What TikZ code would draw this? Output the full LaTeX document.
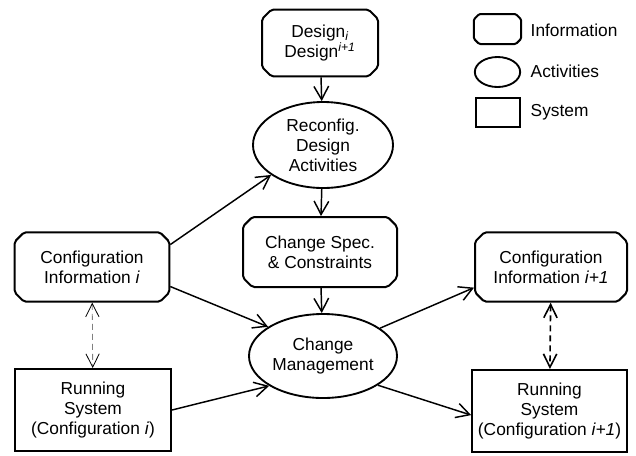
\documentclass[tikz,border=0pt]{standalone}
\usepackage{fontspec}
\setmainfont{Liberation Sans}
\usetikzlibrary{shapes.misc, shapes.geometric, arrows.meta}
\tikzset{
info/.style={chamfered rectangle, chamfered rectangle xsep=3.5pt,
  chamfered rectangle ysep=3.5pt, rounded corners=1.5pt, draw,
  line width=1.5pt, inner sep=0pt, align=center},
activity/.style={ellipse, draw, line width=1.4pt, inner sep=0pt,
  align=center},
sys/.style={rectangle, draw, line width=1.5pt, inner sep=0pt,
  align=center},
flow/.style={-{Straight Barb[length=10pt, width=11pt]}, line width=1.1pt},
link/.style={{Straight Barb[length=10pt, width=10pt, color=black]}-{Straight Barb[length=10pt, width=10pt, color=black]},
  dash pattern=on 4.5pt off 3pt}
}

\begin{document}
\begin{tikzpicture}[x=0.75pt, y=-0.75pt,
  every node/.style={font=\fontsize{13}{15}\selectfont}]
  \useasboundingbox (0,0) rectangle (636,455);
% legend
\node[sys, draw=none, minimum width=34pt, minimum height=21pt] (keyinfo) at (497.5,29) {};
\draw[line width=1.5pt, rounded corners=1pt]
  ([xshift=4pt]keyinfo.north west) -- ([xshift=-4pt]keyinfo.north east)
  -- ([yshift=-4pt]keyinfo.north east) -- ([yshift=4pt]keyinfo.south east)
  -- ([xshift=-4pt]keyinfo.south east) -- ([xshift=4pt]keyinfo.south west)
  -- ([yshift=4pt]keyinfo.south west) -- ([yshift=-4pt]keyinfo.north west)
  -- cycle;
\node[activity, minimum width=34pt, minimum height=22.5pt] (keyact) at (497.5,72) {};
\node[sys, minimum width=33pt, minimum height=22pt] (keysys) at (498,112.5) {};
\node[anchor=west] (keyinfolbl) at (526,30) {Information};
\node[anchor=west] (keyactlbl) at (526,71) {Activities};
\node[anchor=west] (keysyslbl) at (526,112) {System};
% main nodes
\node[info, minimum width=87pt, minimum height=50pt] (design) at (320,43)
  {Design\textsubscript{\itshape i}\\Design\textsuperscript{\itshape i+1}};
\node[activity, minimum width=105pt, minimum height=64.5pt] (reconfig) at (323,145)
  {Reconfig.\\Design\\Activities};
\node[info, minimum width=115.5pt, minimum height=52.5pt] (spec) at (320,252)
  {Change Spec.\\\& Constraints};
\node[activity, minimum width=111pt, minimum height=63pt] (mgmt) at (323,356)
  {Change\\Management};
\node[info, minimum width=116pt, minimum height=52pt] (cfgi) at (92,267)
  {Configuration\\Information \textit{i}};
\node[sys, minimum width=117pt, minimum height=61.5pt] (runi) at (93,410)
  {Running\\System\\(Configuration \textit{i})};
\node[info, minimum width=114pt, minimum height=52pt] (cfgnext) at (551,267)
  {Configuration\\Information \textit{i+1}};
\node[sys, minimum width=116pt, minimum height=61.5pt] (runnext) at (549.5,411)
  {Running\\System\\(Configuration \textit{i+1})};
% connectors
\draw[flow] (design) -- (reconfig);
\draw[flow] (reconfig) -- (spec);
\draw[flow] (spec) -- (mgmt);
\draw[flow] (cfgi.16) -- (reconfig.210);
\draw[flow] (cfgi.-14) -- (mgmt.152);
\draw[flow] (runi.east) -- (mgmt.209);
\draw[flow] (mgmt.26) -- (cfgnext.195);
\draw[flow] (mgmt.-28) -- (runnext.183);
\draw[link, line width=0.6pt, gray] (cfgi) -- (runi);
\draw[link, line width=1.2pt] (cfgnext) -- (runnext);
\end{tikzpicture}
\end{document}
